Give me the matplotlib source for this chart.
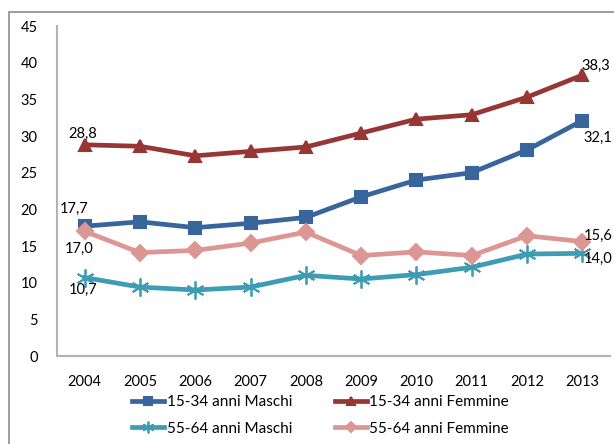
import matplotlib.pyplot as plt
from matplotlib.patches import Rectangle

plt.rcParams['font.family'] = ['Lato', 'DejaVu Sans']

anni = ['2004', '2005', '2006', '2007', '2008', '2009', '2010', '2011', '2012', '2013']

giovani_maschi = [17.7, 18.3, 17.5, 18.1, 18.9, 21.7, 24.0, 25.0, 28.1, 32.1]
giovani_femmine = [28.8, 28.6, 27.3, 27.9, 28.5, 30.4, 32.3, 32.9, 35.3, 38.3]
anziani_maschi = [10.7, 9.4, 9.0, 9.4, 11.0, 10.5, 11.1, 12.1, 13.9, 14.0]
anziani_femmine = [17.0, 14.1, 14.4, 15.4, 16.9, 13.7, 14.2, 13.7, 16.4, 15.6]

serie = [
    ('15-34 anni Maschi', giovani_maschi, '#37659c', 's', 9),
    ('15-34 anni Femmine', giovani_femmine, '#973735', '^', 9),
    ('55-64 anni Maschi', anziani_maschi, '#3e9db4', (6, 2, 0), 13),
    ('55-64 anni Femmine', anziani_femmine, '#dc9795', 'D', 8),
]

fig = plt.figure(figsize=(6.14, 4.44), dpi=100)
fig.patches.append(Rectangle((9 / 614, -0.1), 1.2, 1 - 12 / 444 + 0.1,
                             transform=fig.transFigure, fill=False,
                             edgecolor='#8c8c8c', linewidth=1.2))

ax = fig.add_axes([57 / 614, 1 - 356 / 444, 553 / 614, 330 / 444])
x = list(range(len(anni)))

linee = []
for nome, valori, colore, marker, ms in serie:
    l, = ax.plot(x, valori, color=colore, linewidth=3.4, marker=marker,
                 markersize=ms, markeredgewidth=1.5 if marker != (6, 2, 0) else 1.3,
                 markeredgecolor=colore, label=nome)
    linee.append(l)

def etichetta(valore, xi, dx, dy):
    ax.annotate(f'{valore:.1f}'.replace('.', ','), (xi, valore),
                xytext=(dx, dy), textcoords='offset pixels',
                ha='center', va='center', fontsize=10.5, color='black')

etichetta(giovani_femmine[0], 0, -2, 11)
etichetta(giovani_maschi[0], 0, -11, 17)
etichetta(anziani_femmine[0], 0, -6, -18)
etichetta(anziani_maschi[0], 0, -2, -12)
etichetta(giovani_femmine[-1], 9, 13, 9)
etichetta(giovani_maschi[-1], 9, 15, -17)
etichetta(anziani_femmine[-1], 9, 16, 6)
etichetta(anziani_maschi[-1], 9, 16, -6)

ax.set_xlim(-0.5, 9.5)
ax.set_ylim(0, 45)
ax.set_yticks(range(0, 46, 5))
ax.set_xticks(x)
ax.set_xticklabels(anni)
ax.tick_params(axis='both', length=0, labelsize=10.5, colors='black')
ax.tick_params(axis='x', pad=14)
ax.tick_params(axis='y', pad=14)
for lato in ['top', 'right']:
    ax.spines[lato].set_visible(False)
for lato in ['left', 'bottom']:
    ax.spines[lato].set_color('#b3b3b3')
    ax.spines[lato].set_linewidth(1.5)

# legenda a due colonne, riga per riga
ordine = [0, 2, 1, 3]
fig.legend([linee[i] for i in ordine], [serie[i][0] for i in ordine],
           loc='center', bbox_to_anchor=(0.522, 0.064), ncol=2, frameon=False,
           fontsize=11, handlelength=2.1, handletextpad=0.15,
           columnspacing=2.8, labelspacing=0.8, markerscale=0.65)

fig.savefig('out.png', dpi=100)
